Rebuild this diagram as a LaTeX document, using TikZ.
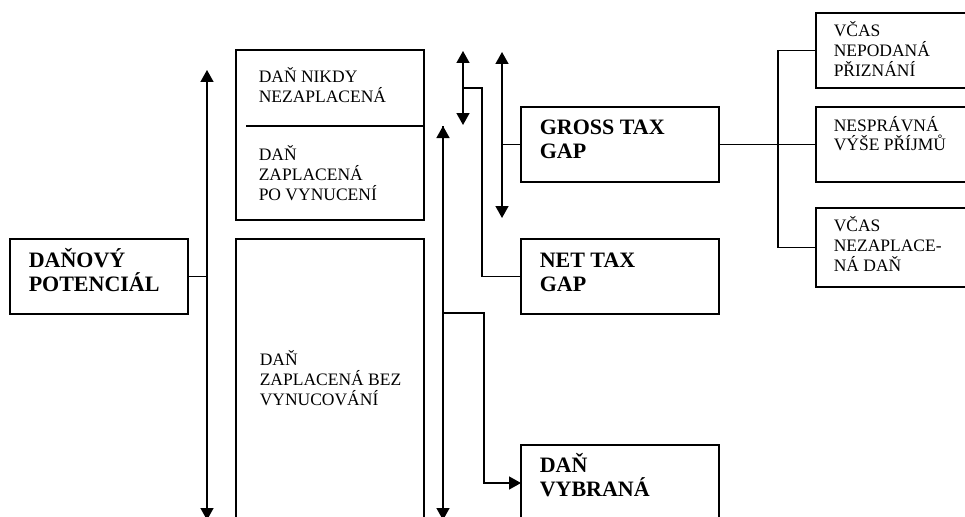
\documentclass[tikz,border=0pt]{standalone}
\usepackage{fontspec}
\setmainfont{Liberation Serif}
\usetikzlibrary{arrows.meta}
\begin{document}
\begin{tikzpicture}[x=1pt,y=-1pt,
  line width=1.5pt,
  box/.style={draw, rectangle, inner sep=0pt, outer sep=0pt},
  reg/.style={anchor=base west, inner sep=0pt, font=\fontsize{17.5}{20}\selectfont},
  bld/.style={anchor=base west, inner sep=0pt, font=\fontsize{22}{24.5}\selectfont\bfseries},
  tipped/.style={-{Triangle[length=12pt,width=13pt]}},
  dbl/.style={{Triangle[length=12pt,width=13pt]}-{Triangle[length=12pt,width=13pt]}}
]
\clip (0,0) rectangle (965,516);
\fill[white] (0,0) rectangle (965,516);
% boxes
\node[box, minimum width=178pt, minimum height=75pt] (pot) at (99,276.5) {};
\node[box, minimum width=188pt, minimum height=170pt] (tm) at (330,135) {};
\node[box, minimum width=188pt, minimum height=301pt] (lm) at (330,389.5) {};
\node[box, minimum width=198pt, minimum height=75pt] (gross) at (620,144.5) {};
\node[box, minimum width=198pt, minimum height=75pt] (net) at (620,276.5) {};
\node[box, minimum width=198pt, minimum height=76pt] (vyb) at (620,483) {};
\node[box, minimum width=174pt, minimum height=75pt] (r1) at (903,50.5) {};
\node[box, minimum width=174pt, minimum height=75pt] (r2) at (903,144.5) {};
\node[box, minimum width=174pt, minimum height=79pt] (r3) at (903,247.5) {};
% texts
\node[bld] (potT) at (28,267) {\parbox[t]{200pt}{\raggedright DAŇOVÝ\\POTENCIÁL}};
\node[reg] (tmT1) at (258,83) {\parbox[t]{200pt}{\raggedright DAŇ NIKDY\\NEZAPLACENÁ}};
\node[reg] (tmT2) at (258,160) {\parbox[t]{200pt}{\raggedright DAŇ\\ZAPLACENÁ\\PO VYNUCENÍ}};
\node[reg] (lmT) at (259,365) {\parbox[t]{200pt}{\raggedright DAŇ\\ZAPLACENÁ BEZ\\VYNUCOVÁNÍ}};
\node[bld] (grossT) at (539,134) {\parbox[t]{200pt}{\raggedright GROSS TAX\\GAP}};
\node[bld] (netT) at (539,267) {\parbox[t]{200pt}{\raggedright NET TAX\\GAP}};
\node[bld] (vybT) at (539,472) {\parbox[t]{200pt}{\raggedright DAŇ\\VYBRANÁ}};
\node[reg] (r1T) at (833,37) {\parbox[t]{200pt}{\raggedright VČAS\\NEPODANÁ\\PŘIZNÁNÍ}};
\node[reg] (r2T) at (833,131) {\parbox[t]{200pt}{\raggedright NESPRÁVNÁ\\VÝŠE PŘÍJMŮ}};
\node[reg] (r3T) at (833,231) {\parbox[t]{200pt}{\raggedright VČAS\\NEZAPLACE-\\NÁ DAŇ}};
% divider in top middle box
\coordinate (dv) at (246,126);
\draw (dv) -- (dv -| tm.east);
% vertical arrows
\coordinate (a1t) at (207,70);  \coordinate (a1b) at (207,520);
\coordinate (a2t) at (443,126); \coordinate (a2b) at (443,520);
\coordinate (a3t) at (463,51);  \coordinate (a3b) at (463,125);
\coordinate (a4t) at (502,52);  \coordinate (a4b) at (502,218);
\draw[dbl] (a1t) -- (a1b);
\draw[tipped] (a2b) -- (a2t);
\draw[tipped] (a2t) -- (a2b);
\draw[dbl] (a3t) -- (a3b);
\draw[dbl] (a4t) -- (a4b);
% connectors
\draw (pot.east) -- (pot.east -| a1t);
\draw (gross.west) -- (gross.west -| a4t);
\coordinate (a3m) at (463,88);
\coordinate (k3) at (482,88);
\draw (a3m) -- (k3) |- (net.west);
\coordinate (a2m) at (443,313);
\coordinate (k2) at (484,313);
\draw[tipped] (a2m) -- (k2) |- (vyb.west);
\draw (gross.east) -- (r2.west);
\coordinate (bus) at (778,150);
\draw (r1.west) -| (bus) |- (r3.west);
\end{tikzpicture}
\end{document}
